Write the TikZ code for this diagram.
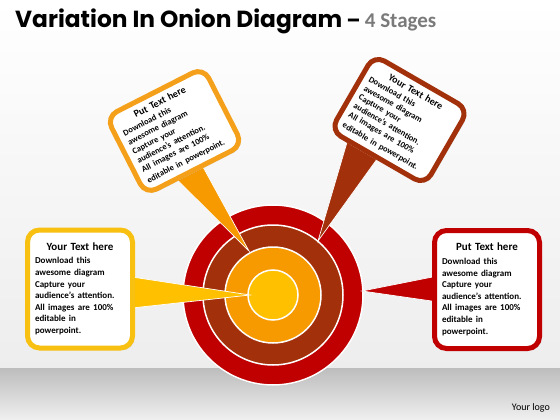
\documentclass[tikz,border=0pt]{standalone}
\usepackage{fontspec}
\setmainfont{Carlito}
\newfontfamily\headfont{Poppins}
\usetikzlibrary{calc,shadows}

\definecolor{onionred}{HTML}{C00000}
\definecolor{onionbrown}{HTML}{A2300A}
\definecolor{onionorange}{HTML}{F79A00}
\definecolor{onionyellow}{HTML}{FFC000}
\definecolor{boxyellow}{HTML}{F8C010}
\definecolor{boxorange}{HTML}{F5A01A}

\pgfdeclarelayer{back}
\pgfdeclarelayer{mid}
\pgfsetlayers{back,mid,main}

\newcommand{\boxtitle}[1]{\centering\fontsize{11}{13}\selectfont\bfseries #1\par\vspace{2pt}}
\newcommand{\tilttitle}[1]{\centering\fontsize{10}{11.5}\selectfont\bfseries #1\par\vspace{1pt}}
\newcommand{\bodylines}{Download this\\awesome diagram\\Capture your\\audience’s attention.\\All images are 100\%\\}
\newcommand{\boxbody}{\raggedright\fontsize{9}{11.6}\selectfont\bfseries\bodylines editable in\\powerpoint.}
\newcommand{\tiltbody}{\raggedright\fontsize{8.5}{10.2}\selectfont\bfseries\bodylines editable in powerpoint.}

\tikzset{
  txtbox/.style={draw=#1, line width=5pt, fill=white, rounded corners=12pt,
    inner sep=0pt,
    drop shadow={opacity=0.25, shadow xshift=2pt, shadow yshift=-2pt}},
  flatbox/.style={txtbox=#1, text width=90pt, minimum width=105pt, minimum height=118pt},
  tiltbox/.style={txtbox=#1, text width=93pt, minimum width=109pt, minimum height=87pt},
  ring/.style={fill=#1, draw=white, line width=1.5pt},
  wedge/.style={fill=#1, draw=white, line width=0.7pt}
}

\begin{document}
\begin{tikzpicture}[x=1pt, y=-1pt]
  \begin{pgfonlayer}{back}
    % background and floor
    \shade[top color=white, bottom color=black!7] (0,0) rectangle (560,368);
    \shade[top color=black!26, middle color=black!9, bottom color=black!6] (0,368) rectangle (560,420);
    % onion
    \coordinate (ctr) at (273,295);
    \fill[ring=onionred, drop shadow={opacity=0.2, shadow xshift=0pt, shadow yshift=-1pt}] (ctr) circle (90pt);
    \fill[ring=onionbrown] (ctr) circle (70pt);
    \fill[ring=onionorange] (ctr) circle (48pt);
    \fill[ring=onionyellow] (ctr) circle (25pt);
  \end{pgfonlayer}

  % title
  \node (title) [anchor=base west, inner sep=0pt] at (15,28)
    {\headfont\bfseries\fontsize{23.3}{24}\selectfont Variation In Onion Diagram};
  \node (stages) [anchor=base west, inner sep=0pt] at ($(title.base east)+(4,0)$)
    {\headfont\bfseries\fontsize{20}{20}\selectfont –\ \fontsize{21}{21}\selectfont\rmfamily\color{black!52}4 Stages};

  % boxes
  \node (lbox) [flatbox=boxyellow] at (80,289) {\boxtitle{Your Text here}\boxbody};
  \node (rbox) [flatbox=onionred] at (487,289.5) {\boxtitle{Put Text here}\boxbody};
  \node (tlbox) [tiltbox=boxorange, rotate=27] at (174.5,131) {\tilttitle{Put Text here}\tiltbody};
  \node (trbox) [tiltbox=onionbrown, rotate=-30] at (399.5,120) {\tilttitle{Your Text here}\tiltbody};

  % pointers
  \coordinate (ytip) at (250,295);
  \coordinate (otip) at (249,251);
  \coordinate (btip) at (318,241);
  \coordinate (rtip) at (362,291);
  \begin{pgfonlayer}{mid}
    \draw[wedge=onionyellow] ($(lbox.east)+(-3,-12)$) -- (ytip) -- ($(lbox.east)+(-3,19)$);
    \draw[wedge=onionred] ($(rbox.west)+(3,-13)$) -- (rtip) -- ($(rbox.west)+(3,12)$);
    \draw[wedge=onionorange] ($(tlbox.south west)!0.33!(tlbox.south east)$) -- (otip) -- ($(tlbox.south west)!0.58!(tlbox.south east)$);
    \draw[wedge=onionbrown] ($(trbox.south west)!0.2!(trbox.south east)$) -- (btip) -- ($(trbox.south west)!0.5!(trbox.south east)$);
  \end{pgfonlayer}

  \node (logo) [anchor=base east, inner sep=0pt] at (550,410)
    {\fontsize{10}{12}\selectfont Your logo};
\end{tikzpicture}
\end{document}
